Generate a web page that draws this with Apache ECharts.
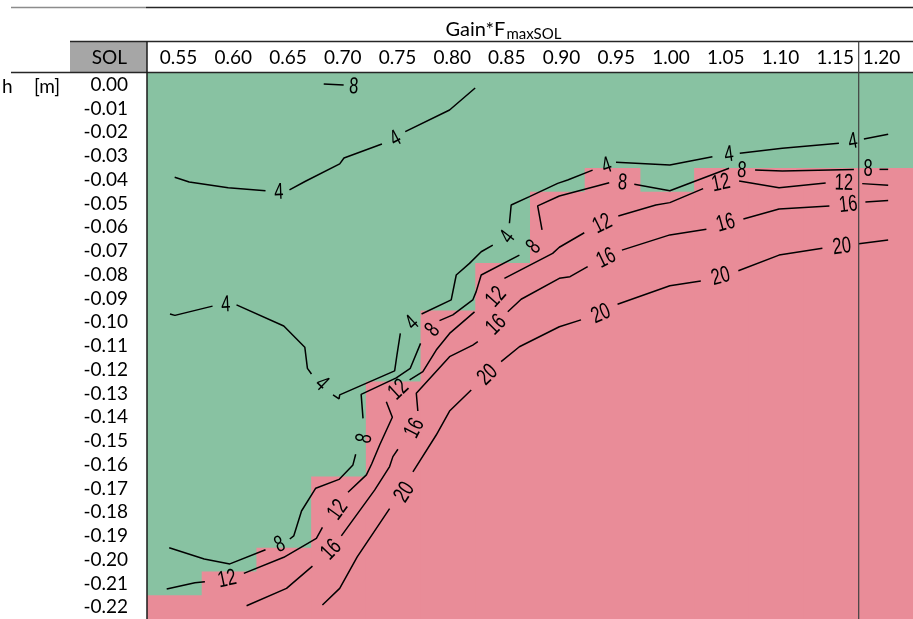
<!DOCTYPE html>
<html>
<head>
<meta charset="utf-8">
<script src="https://cdn.jsdelivr.net/npm/echarts@6/dist/echarts.min.js"></script>
<style>
  html, body { margin: 0; padding: 0; background: #fff; }
  #chart { width: 913px; height: 619px; }
</style>
</head>
<body>
<div id="chart"></div>
<script>
// Column headers (Gain*F_maxSOL) and row headers (h [m])
const gainLabels = ['0.55', '0.60', '0.65', '0.70', '0.75', '0.80', '0.85', '0.90', '0.95', '1.00', '1.05', '1.10', '1.15', '1.20'];
const hLabels = ['0.00', '-0.01', '-0.02', '-0.03', '-0.04', '-0.05', '-0.06', '-0.07', '-0.08', '-0.09', '-0.10', '-0.11',
  '-0.12', '-0.13', '-0.14', '-0.15', '-0.16', '-0.17', '-0.18', '-0.19', '-0.20', '-0.21', '-0.22'];

// First row (index into hLabels) from which each gain column fails (red)
const firstFailRow = [22, 21, 20, 17, 13, 10, 8, 5, 4, 5, 4, 4, 4, 4];

// Iso-lines in (gain, h) coordinates. Each line is a list of pieces;
// the value labels sit in the gaps between consecutive pieces.
const iso4Upper = [
  [[0.5503, -0.0389], [0.5636, -0.0409], [0.5992, -0.0433], [0.6333, -0.0446]],
  [[0.6552, -0.0442], [0.6698, -0.0406], [0.7011, -0.0333], [0.7050, -0.0308], [0.7397, -0.0249]],
  [[0.7610, -0.0197], [0.8015, -0.0106], [0.8249, -0.0013]]
];
const iso4UpperLabels = [[0.6454, -0.0453], [0.7522, -0.0228]];

const iso4Lower = [
  [[0.5460, -0.0965], [0.5505, -0.0971], [0.5849, -0.0932]],
  [[0.6068, -0.0927], [0.6500, -0.1016], [0.6692, -0.1105], [0.6716, -0.1194], [0.6753, -0.1218]],
  [[0.6950, -0.1306], [0.7005, -0.1323], [0.7011, -0.1306], [0.7513, -0.1205], [0.7534, -0.1138], [0.7565, -0.1047]],
  [[0.7759, -0.0965], [0.8030, -0.0906], [0.8076, -0.0801], [0.8197, -0.0752], [0.8304, -0.0703], [0.8410, -0.0675]],
  [[0.8562, -0.0583], [0.8578, -0.0506], [0.8745, -0.0471], [0.9003, -0.0415], [0.9094, -0.0401], [0.9322, -0.0359]],
  [[0.9536, -0.0326], [1.0028, -0.0338], [1.0417, -0.0303]],
  [[1.0667, -0.0288], [1.1056, -0.0267], [1.1573, -0.0246]],
  [[1.1801, -0.0228], [1.2023, -0.0208]]
];
const iso4LowerLabels = [[0.5971, -0.0927], [0.6844, -0.1260], [0.7674, -0.1004], [0.8547, -0.0642],
  [0.9452, -0.0342], [1.0569, -0.0295], [1.1701, -0.0239]];

const iso8Top = [
  [[0.6865, 0.0004], [0.7047, -0.0001]]
];
const iso8TopLabels = [[0.7139, -0.0009]];

const iso8 = [
  [[0.5453, -0.1950], [0.5773, -0.1997], [0.6007, -0.2018], [0.6333, -0.1958]],
  [[0.6555, -0.1913], [0.6591, -0.1900], [0.6662, -0.1795], [0.6792, -0.1699], [0.7005, -0.1662], [0.7132, -0.1601], [0.7157, -0.1556]],
  [[0.7224, -0.1405], [0.7207, -0.1304], [0.7528, -0.1234], [0.7656, -0.1194], [0.7750, -0.1089]],
  [[0.7923, -0.0993], [0.8045, -0.0969], [0.8227, -0.0906], [0.8258, -0.0871], [0.8304, -0.0801], [0.8653, -0.0717]],
  [[0.8860, -0.0611], [0.8820, -0.0510], [0.9018, -0.0468], [0.9474, -0.0412]],
  [[0.9703, -0.0419], [1.0028, -0.0446], [1.0569, -0.0351]],
  [[1.0807, -0.0359], [1.1056, -0.0363], [1.1710, -0.0356]],
  [[1.1944, -0.0356], [1.2023, -0.0356]]
];
const iso8Labels = [[0.6464, -0.1938], [0.7239, -0.1489], [0.7862, -0.1033], [0.8786, -0.0683],
  [0.9596, -0.0413], [1.0685, -0.0362], [1.1840, -0.0357]];

const iso12 = [
  [[0.5430, -0.2124], [0.5688, -0.2097], [0.5779, -0.2093]],
  [[0.6135, -0.2058], [0.6500, -0.1990], [0.6798, -0.1910], [0.6853, -0.1864]],
  [[0.7087, -0.1716], [0.7255, -0.1643], [0.7303, -0.1597], [0.7376, -0.1517], [0.7492, -0.1400], [0.7437, -0.1335]],
  [[0.7650, -0.1243], [0.7771, -0.1208], [0.7893, -0.1117], [0.8015, -0.1047], [0.8243, -0.0956]],
  [[0.8516, -0.0815], [0.8957, -0.0710], [0.9018, -0.0684], [0.9246, -0.0623]],
  [[0.9557, -0.0552], [0.9900, -0.0506], [1.0028, -0.0496], [1.0332, -0.0437]],
  [[1.0661, -0.0405], [1.1026, -0.0433], [1.1452, -0.0413]],
  [[1.1786, -0.0416], [1.2023, -0.0423]]
];
const iso12Labels = [[0.5983, -0.2083], [0.6995, -0.1791], [0.7549, -0.1285], [0.8441, -0.0894],
  [0.9413, -0.0586], [1.0494, -0.0415], [1.1619, -0.0415]];

const iso16 = [
  [[0.6160, -0.2194], [0.6525, -0.2121], [0.6762, -0.2027]],
  [[0.7026, -0.1900], [0.7330, -0.1707], [0.7467, -0.1608], [0.7497, -0.1566], [0.7543, -0.1535]],
  [[0.7725, -0.1374], [0.7711, -0.1299], [0.8015, -0.1145], [0.8227, -0.1096], [0.8273, -0.1082]],
  [[0.8547, -0.0956], [0.8669, -0.0903], [0.9018, -0.0815], [0.9116, -0.0808], [0.9277, -0.0766]],
  [[0.9590, -0.0696], [1.0028, -0.0632], [1.0362, -0.0608]],
  [[1.0700, -0.0565], [1.1026, -0.0523], [1.1486, -0.0510]],
  [[1.1815, -0.0493], [1.2023, -0.0487]]
];
const iso16Labels = [[0.6935, -0.1959], [0.7695, -0.1447], [0.8441, -0.1012], [0.9447, -0.0731],
  [1.0539, -0.0583], [1.1658, -0.0506]];

const iso20 = [
  [[0.6853, -0.2191], [0.7011, -0.2121], [0.7171, -0.1988], [0.7467, -0.1785]],
  [[0.7680, -0.1630], [0.7893, -0.1475], [0.8015, -0.1374], [0.8213, -0.1285]],
  [[0.8486, -0.1166], [0.8653, -0.1103], [0.9018, -0.1019], [0.9216, -0.0990]],
  [[0.9550, -0.0924], [1.0028, -0.0846], [1.0311, -0.0826]],
  [[1.0654, -0.0783], [1.1026, -0.0717], [1.1422, -0.0688]],
  [[1.1755, -0.0669], [1.2023, -0.0653]]
];
const iso20Labels = [[0.7604, -0.1717], [0.8364, -0.1222], [0.9399, -0.0965], [1.0494, -0.0808], [1.1600, -0.0682]];

const isoLines = [
  { level: 4, pieces: iso4Upper, labels: iso4UpperLabels },
  { level: 4, pieces: iso4Lower, labels: iso4LowerLabels },
  { level: 8, pieces: iso8Top, labels: iso8TopLabels },
  { level: 8, pieces: iso8, labels: iso8Labels },
  { level: 12, pieces: iso12, labels: iso12Labels },
  { level: 16, pieces: iso16, labels: iso16Labels },
  { level: 20, pieces: iso20, labels: iso20Labels }
];

const PASS = '#88C2A2';
const FAIL = '#E98C98';
const TABLE_FONT = 'Lato, "Open Sans", sans-serif';
const TABLE_SIZE = 19;
const ISO_FONT = '"Liberation Sans", Arial, sans-serif';

// Each label carries the two line points around it, so it can be turned along the line
const isoLabelItems = [];
isoLines.forEach(function (line) {
  line.labels.forEach(function (pos, k) {
    const before = line.pieces[k];
    const after = line.pieces[k + 1];
    let a, b;
    if (after) {
      a = before[before.length - 1];
      b = after[0];
    } else {
      a = before[before.length - 2];
      b = before[before.length - 1];
    }
    isoLabelItems.push([pos[0], pos[1], line.level, a[0], a[1], b[0], b[1]]);
  });
});

const lineSeries = [];
isoLines.forEach(function (line) {
  line.pieces.forEach(function (piece) {
    lineSeries.push({
      type: 'line',
      xAxisIndex: 1,
      yAxisIndex: 1,
      data: piece,
      symbol: 'none',
      silent: true,
      clip: false,
      z: 3,
      lineStyle: { color: '#000', width: 1.5 }
    });
  });
});

// header title: "Gain*F" with subscript "maxSOL", centred over the 0.55–1.15 block
const measureCtx = document.createElement('canvas').getContext('2d');
function textWidth(str, font) {
  measureCtx.font = font;
  return measureCtx.measureText(str).width;
}
const titleMainFont = '20px ' + TABLE_FONT;
const titleSubFont = '15px ' + TABLE_FONT;
const titleMainW = textWidth('Gain*F', titleMainFont);
const titleSubW = textWidth('maxSOL', titleSubFont);
const titleLeft = 503 - (titleMainW + titleSubW) / 2;

const chart = echarts.init(document.getElementById('chart'), null, { renderer: 'canvas' });

const option = {
  animation: false,
  grid: {
    left: 147, top: 73, width: 767.2, height: 546,
    show: true, backgroundColor: PASS, borderWidth: 0
  },
  xAxis: [
    {
      type: 'category',
      data: gainLabels,
      position: 'top',
      axisLine: { show: false },
      axisTick: { show: false },
      splitLine: { show: false },
      axisLabel: {
        interval: 0,
        margin: 15,
        verticalAlign: 'middle',
        color: '#000',
        fontFamily: TABLE_FONT,
        fontSize: TABLE_SIZE,
        formatter: function (v, i) {
          return i === gainLabels.length - 1 ? '{last|' + v + '}' : '{r|' + v + '}';
        },
        rich: {
          r: { width: 46, align: 'right', fontFamily: TABLE_FONT, fontSize: TABLE_SIZE, color: '#000' },
          last: { width: 46, align: 'left', fontFamily: TABLE_FONT, fontSize: TABLE_SIZE, color: '#000' }
        }
      }
    },
    { type: 'value', min: 0.525, max: 1.225, show: false }
  ],
  yAxis: [
    {
      type: 'category',
      data: hLabels,
      inverse: true,
      axisLine: { show: false },
      axisTick: { show: false },
      splitLine: { show: false },
      axisLabel: {
        interval: 0,
        margin: 19,
        color: '#000',
        fontFamily: TABLE_FONT,
        fontSize: TABLE_SIZE,
        padding: [3, 0, 0, 0]
      }
    },
    { type: 'value', min: -0.225, max: 0.005, show: false }
  ],
  series: [
    {
      // failing cells: from the first failing row of each column down to the bottom
      type: 'custom',
      xAxisIndex: 0,
      yAxisIndex: 0,
      silent: true,
      z: 1,
      data: firstFailRow.map(function (r, c) { return [c, r]; }),
      renderItem: function (params, api) {
        const p = api.coord([api.value(0), api.value(1)]);
        const size = api.size([1, 1]);
        const x0 = p[0] - size[0] / 2;
        const y0 = p[1] - size[1] / 2;
        const bottom = params.coordSys.y + params.coordSys.height;
        return {
          type: 'rect',
          shape: { x: x0, y: y0, width: size[0] + 1, height: bottom - y0 },
          style: { fill: FAIL }
        };
      }
    }
  ].concat(lineSeries).concat([
    {
      type: 'custom',
      xAxisIndex: 1,
      yAxisIndex: 1,
      silent: true,
      z: 4,
      dimensions: ['x', 'y', 'level', 'ax', 'ay', 'bx', 'by'],
      encode: { x: 0, y: 1 },
      data: isoLabelItems,
      renderItem: function (params, api) {
        const p = api.coord([api.value(0), api.value(1)]);
        const a = api.coord([api.value(3), api.value(4)]);
        const b = api.coord([api.value(5), api.value(6)]);
        let ang = Math.atan2(-(b[1] - a[1]), b[0] - a[0]);
        if (ang > Math.PI / 2) ang -= Math.PI;
        if (ang < -Math.PI / 2) ang += Math.PI;
        return {
          type: 'text',
          x: p[0],
          y: p[1],
          rotation: ang,
          scaleX: 0.72,
          style: {
            text: String(api.value(2)),
            fill: '#000',
            font: '23px ' + ISO_FONT,
            align: 'center',
            verticalAlign: 'middle'
          }
        };
      }
    }
  ]),
  graphic: [
    { type: 'line', z: 10, shape: { x1: 11, y1: 7.5, x2: 146, y2: 7.5 }, style: { stroke: '#8c8c8c', lineWidth: 1.5 } },
    { type: 'line', z: 10, shape: { x1: 146, y1: 7.5, x2: 913, y2: 7.5 }, style: { stroke: '#262626', lineWidth: 1.5 } },
    { type: 'rect', z: 9, shape: { x: 70, y: 41.5, width: 77, height: 30.5 }, style: { fill: '#A6A6A6' } },
    { type: 'line', z: 10, shape: { x1: 70, y1: 41.5, x2: 913, y2: 41.5 }, style: { stroke: '#262626', lineWidth: 1.5 } },
    { type: 'line', z: 10, shape: { x1: 11, y1: 72.5, x2: 913, y2: 72.5 }, style: { stroke: '#262626', lineWidth: 1.5 } },
    { type: 'line', z: 10, shape: { x1: 147, y1: 41.5, x2: 147, y2: 619 }, style: { stroke: '#1a1a1a', lineWidth: 1.5 } },
    { type: 'line', z: 10, shape: { x1: 858.7, y1: 41.5, x2: 858.7, y2: 619 }, style: { stroke: '#404040', lineWidth: 1.2 } },
    {
      type: 'text', z: 10, x: 127, y: 58,
      style: { text: 'SOL', font: TABLE_SIZE + 'px ' + TABLE_FONT, fill: '#000', align: 'right', verticalAlign: 'middle' }
    },
    {
      type: 'text', z: 10, x: 2, y: 87,
      style: {
        text: '{h|h} {u|[m]}',
        align: 'left',
        verticalAlign: 'middle',
        rich: {
          h: { font: TABLE_SIZE + 'px ' + TABLE_FONT, fill: '#000' },
          u: { font: TABLE_SIZE + 'px ' + TABLE_FONT, fill: '#000', padding: [0, 0, 0, 18] }
        }
      }
    },
    {
      type: 'text', z: 10, x: titleLeft, y: 30,
      style: { text: 'Gain*F', font: titleMainFont, fill: '#000', align: 'left', verticalAlign: 'middle' }
    },
    {
      type: 'text', z: 10, x: titleLeft + titleMainW + 1, y: 34,
      style: { text: 'maxSOL', font: titleSubFont, fill: '#000', align: 'left', verticalAlign: 'middle' }
    }
  ]
};

chart.setOption(option);
</script>
</body>
</html>
